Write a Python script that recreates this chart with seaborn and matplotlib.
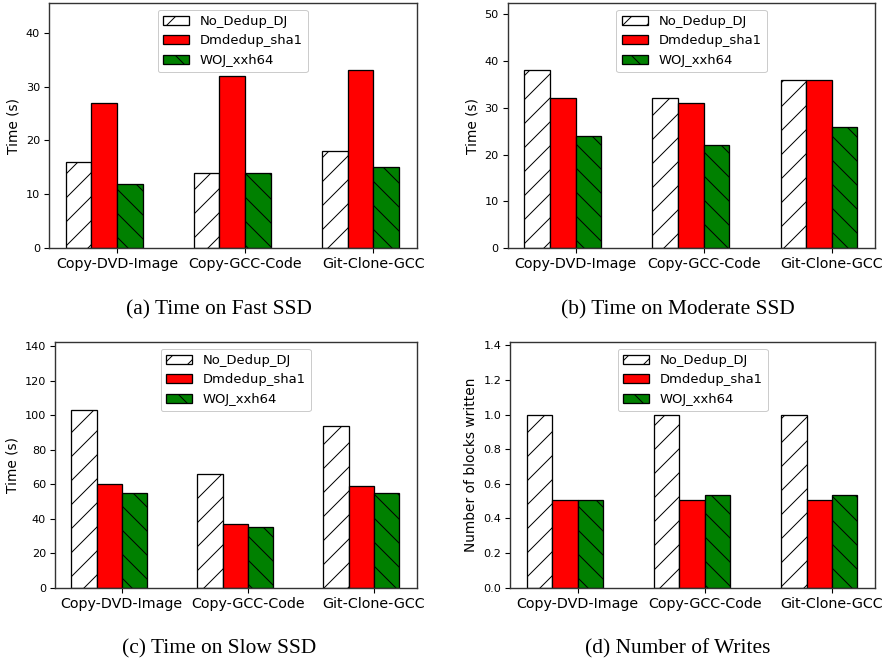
import matplotlib
matplotlib.use("Agg")
import matplotlib.pyplot as plt
import seaborn as sns
import pandas as pd

workloads = ["Copy-DVD-Image", "Copy-GCC-Code", "Git-Clone-GCC"]
systems = ["No_Dedup_DJ", "Dmdedup_sha1", "WOJ_xxh64"]

fast_nodedup = [16, 14, 18]
fast_dmdedup = [27, 32, 33]
fast_woj = [12, 14, 15]

moderate_nodedup = [38, 32, 36]
moderate_dmdedup = [32, 31, 36]
moderate_woj = [24, 22, 26]

slow_nodedup = [103, 66, 94]
slow_dmdedup = [60, 37, 59]
slow_woj = [55, 35, 55]

writes_nodedup = [1.0, 1.0, 1.0]
writes_dmdedup = [0.505, 0.505, 0.505]
writes_woj = [0.505, 0.535, 0.535]

panels = [
    ("(a) Time on Fast SSD", "Time (s)", [fast_nodedup, fast_dmdedup, fast_woj], 45.5, [0, 10, 20, 30, 40]),
    ("(b) Time on Moderate SSD", "Time (s)", [moderate_nodedup, moderate_dmdedup, moderate_woj], 52.4, [0, 10, 20, 30, 40, 50]),
    ("(c) Time on Slow SSD", "Time (s)", [slow_nodedup, slow_dmdedup, slow_woj], 142.5, [0, 20, 40, 60, 80, 100, 120, 140]),
    ("(d) Number of Writes", "Number of blocks written", [writes_nodedup, writes_dmdedup, writes_woj], 1.42, [0.0, 0.2, 0.4, 0.6, 0.8, 1.0, 1.2, 1.4]),
]

colors = ["white", "#ff0000", "#008000"]
hatches = ["/", "", "\\"]

W, H = 884, 663
DPI = 72
plt.rcParams["hatch.linewidth"] = 1.0
fig = plt.figure(figsize=(W / DPI, H / DPI), dpi=DPI)

# pixel boxes: left, right, top, bottom
boxes = [
    (49, 416.7, 3, 248.3),
    (507.7, 875.3, 3, 248.3),
    (55, 416.7, 342, 587.7),
    (510.3, 875.3, 342, 587.7),
]
caption_pos = [(219, 310), (678, 310), (219, 649), (678, 649)]

for (caption, ylabel, series, ymax, yticks), (l, r, t, b), (cx, cy) in zip(panels, boxes, caption_pos):
    ax = fig.add_axes([l / W, 1 - b / H, (r - l) / W, (b - t) / H])
    rows = []
    for sname, vals in zip(systems, series):
        for wl, v in zip(workloads, vals):
            rows.append({"workload": wl, "system": sname, "value": v})
    df = pd.DataFrame(rows)
    sns.barplot(data=df, x="workload", y="value", hue="system", order=workloads,
                hue_order=systems, palette=colors, saturation=1, width=0.6,
                edgecolor="black", linewidth=1.3, errorbar=None, legend=False, ax=ax)
    for cont, h in zip(ax.containers, hatches):
        for p in cont.patches:
            p.set_hatch(h)
    ax.set_xticks([0.1, 1.1, 2.1])
    ax.set_xticklabels(workloads, fontsize=14.2)
    ax.set_xlim(-0.43, 2.44)
    ax.set_ylim(0, ymax)
    ax.set_yticks(yticks)
    ax.tick_params(axis="y", labelsize=11.2, length=4.9, width=1.1, pad=4)
    ax.tick_params(axis="x", length=4.9, width=1.1, pad=4)
    ax.set_xlabel("")
    ax.set_ylabel(ylabel, fontsize=13.8, labelpad=5.5)
    for s in ax.spines.values():
        s.set_linewidth(1.4)
        s.set_color("#333333")
    ax.legend(ax.containers, systems, loc="upper center", fontsize=13.1,
              handlelength=2.0, handleheight=0.7, borderaxespad=0.5, framealpha=1,
              edgecolor="#cccccc", fancybox=True)
    fig.text(cx / W, 1 - cy / H, caption, ha="center", va="center",
             fontsize=21.4, family="Liberation Serif")

fig.savefig("out.png", dpi=DPI)
